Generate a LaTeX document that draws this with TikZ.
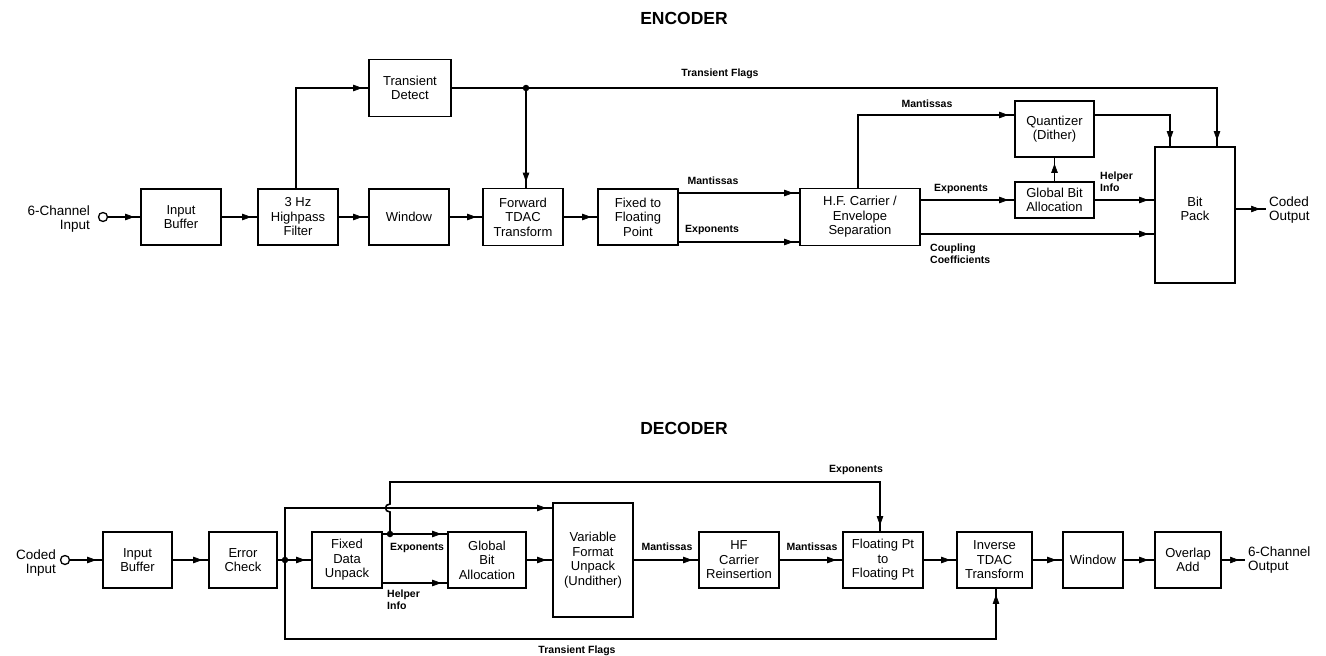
\documentclass[tikz,border=0pt]{standalone}
\usepackage{fontspec}
\setmainfont{Liberation Sans}
\usetikzlibrary{arrows.meta,decorations.markings}
\begin{document}
\begin{tikzpicture}[x=1pt,y=-1pt,
  blk/.style={draw, line width=1.6pt, align=center, inner sep=0pt,
    font=\fontsize{13}{14.5}\selectfont},
  ln/.style={line width=1.6pt},
  arr/.style={ln, postaction={decorate},
    decoration={markings, mark=at position -6pt with {\arrow[line width=0.6pt]{Triangle[length=9pt,width=6.5pt]}}}},
  lbl/.style={font=\fontsize{10.5}{12}\selectfont\bfseries, inner sep=0pt},
  txt/.style={font=\fontsize{13.5}{14.5}\selectfont, inner sep=0pt},
  dot/.style={circle, fill, inner sep=0pt, minimum size=6.5pt},
  port/.style={circle, draw, line width=1.3pt, inner sep=0pt, minimum size=9pt, fill=white},
  ttl/.style={font=\fontsize{17.5}{19}\selectfont\bfseries}]
\useasboundingbox (0,0) rectangle (1326,656);

% ---------------- ENCODER ----------------
\node[ttl] (enct) at (684,18) {ENCODER};
\node[port] (ein) at (103,217) {};
\node[txt, align=right, anchor=east] (eintxt) at (90,219) {6-Channel\\Input};
\node[blk, minimum width=80pt, minimum height=56pt] (ib1) at (181,217) {Input\\Buffer};
\node[blk, minimum width=80pt, minimum height=56pt] (hpf) at (298,217) {3 Hz\\Highpass\\Filter};
\node[blk, minimum width=82pt, minimum height=57pt] (td) at (410,88) {Transient\\Detect};
\node[blk, minimum width=80pt, minimum height=56pt] (win1) at (409,217) {Window};
\node[blk, minimum width=80pt, minimum height=57pt] (fwd) at (523,217) {Forward\\TDAC\\Transform};
\node[blk, minimum width=80pt, minimum height=56pt] (fix) at (638,217) {Fixed to\\Floating\\Point};
\node[blk, minimum width=120pt, minimum height=57pt] (hfc) at (860,217) {H.F. Carrier /\\Envelope\\Separation};
\node[blk, minimum width=79pt, minimum height=56pt] (quant) at (1054.5,129) {Quantizer\\(Dither)};
\node[blk, minimum width=79pt, minimum height=36pt] (gba) at (1054.5,200) {Global Bit\\Allocation};
\node[blk, minimum width=80pt, minimum height=136pt, text depth=12pt] (bp) at (1195,215) {Bit\\Pack};
\coordinate (cout) at (1266,209);
\node[txt, align=left, anchor=west] (couttxt) at (1269,210) {Coded\\Output};

\draw[arr] (ein) -- (ib1);
\draw[arr] (ib1) -- (hpf);
\draw[arr] (hpf) -- (win1);
\draw[arr] ([xshift=-2pt]hpf.north) |- (td.west);
\draw[arr] (win1) -- (fwd);
\draw[arr] (fwd) -- (fix);
\draw[arr] (td.east) -| ([xshift=22pt]bp.north);
\node[dot] (j1) at (526,88) {};
\draw[arr] (j1) -- (j1 |- fwd.north);
\draw[arr] ([yshift=24pt]fix.east) -- ([yshift=24pt]hfc.west);
\draw[arr] ([yshift=-25pt]fix.east) -- ([yshift=-25pt]hfc.west);
\draw[arr] ([xshift=-2pt]hfc.north) |- ([yshift=14pt]quant.west);
\draw[arr] ([yshift=14pt]quant.east) -| ([xshift=-25pt]bp.north);
\draw[arr] ([yshift=17pt]hfc.east) -- (gba.west);
\draw[arr] (gba.north) -- (quant.south);
\draw[arr] (gba.east) -- (gba.east -| bp.west);
\draw[arr] ([yshift=-17pt]hfc.east) -- ([yshift=-17pt]hfc.east -| bp.west);
\draw[arr] (bp.east |- cout) -- (cout);

\node[lbl] (l1) at (720,74) {Transient Flags};
\node[lbl] (l2) at (713,181) {Mantissas};
\node[lbl] (l3) at (712,230) {Exponents};
\node[lbl] (l4) at (927,104) {Mantissas};
\node[lbl] (l5) at (961,189) {Exponents};
\node[lbl, align=left, anchor=north west] (l6) at (930,244) {Coupling\\Coefficients};
\node[lbl, align=left, anchor=north west] (l7) at (1100,172) {Helper\\Info};

% ---------------- DECODER ----------------
\node[ttl] (dect) at (684,428) {DECODER};
\node[port] (din) at (65,560) {};
\node[txt, align=right, anchor=east] (dintxt) at (56,563) {Coded\\Input};
\node[blk, minimum width=69pt, minimum height=56pt] (ib2) at (137.5,560) {Input\\Buffer};
\node[blk, minimum width=68pt, minimum height=56pt] (ec) at (243,560) {Error\\Check};
\node[blk, minimum width=70pt, minimum height=56pt] (fdu) at (347,560) {Fixed\\Data\\Unpack};
\node[blk, minimum width=78pt, minimum height=56pt] (gba2) at (487,560) {Global\\Bit\\Allocation};
\node[blk, minimum width=80pt, minimum height=114pt] (vfu) at (593,560) {Variable\\Format\\Unpack\\(Undither)};
\node[blk, minimum width=80pt, minimum height=56pt] (hfr) at (739,560) {HF\\Carrier\\Reinsertion};
\node[blk, minimum width=80pt, minimum height=56pt] (fp) at (883,560) {Floating Pt\\to\\Floating Pt};
\node[blk, minimum width=75pt, minimum height=56pt] (itd) at (994.5,560) {Inverse\\TDAC\\Transform};
\node[blk, minimum width=60pt, minimum height=56pt] (win2) at (1093,560) {Window};
\node[blk, minimum width=66pt, minimum height=56pt] (ola) at (1188,560) {Overlap\\Add};
\coordinate (dout) at (1245,560);
\node[txt, align=left, anchor=west] (douttxt) at (1248,560) {6-Channel\\Output};

\coordinate (t1) at (285,508);
\coordinate (b1) at (285,639);

\draw[arr] (din) -- (ib2);
\draw[arr] (ib2) -- (ec);
\draw[ln] (ec) -- (285,560);
\draw[arr] (285,560) -- (fdu);
\draw[arr] (285,560) -- (t1) -- (t1 -| vfu.west);
\draw[arr] (285,560) -- (b1) -| ([xshift=1.5pt]itd.south);
\draw[ln] ([yshift=26pt]fdu.east) -- (390,534);
\draw[arr] (390,534) -- (390,534 -| gba2.west);
\draw[arr] (390,534) -- (390,512) .. controls (384,512) and (384,504) .. (390,504) -- (390,482) -| ([xshift=-3pt]fp.north);
\draw[arr] ([yshift=-23pt]fdu.east) -- ([yshift=-23pt]gba2.west);
\draw[arr] (gba2.east) -- (gba2.east -| vfu.west);
\draw[arr] (vfu) -- (hfr);
\draw[arr] (hfr) -- (fp);
\draw[arr] (fp) -- (itd);
\draw[arr] (itd) -- (win2);
\draw[arr] (win2) -- (ola);
\draw[arr] (ola) -- (dout);
\node[dot] (j2) at (285,560) {};
\node[dot] (j3) at (390,534) {};

\node[lbl] (m1) at (856,470) {Exponents};
\node[lbl] (m2) at (417,548) {Exponents};
\node[lbl, align=left, anchor=north west] (m3) at (387,590) {Helper\\Info};
\node[lbl] (m4) at (667,547) {Mantissas};
\node[lbl] (m5) at (812,547) {Mantissas};
\node[lbl] (m6) at (577,651) {Transient Flags};
\end{tikzpicture}
\end{document}
